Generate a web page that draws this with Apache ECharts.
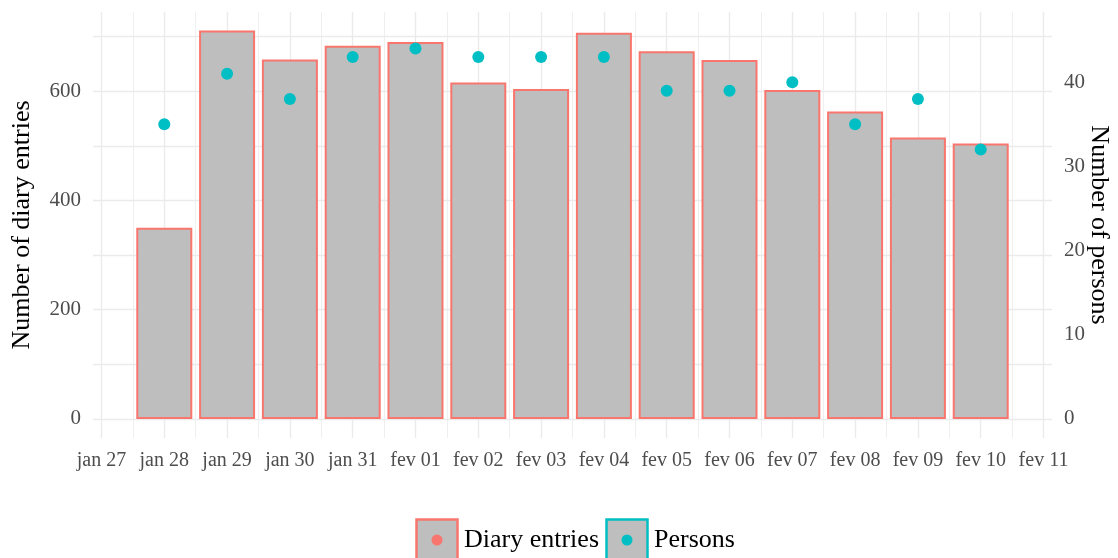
<!DOCTYPE html>
<html>
<head>
<meta charset="utf-8">
<script src="https://cdn.jsdelivr.net/npm/echarts@6/dist/echarts.min.js"></script>
<style>
  html, body { margin: 0; padding: 0; background: #fff; }
  #chart { width: 1118px; height: 558px; }
</style>
</head>
<body>
<div id="chart"></div>
<script>
// tick labels of the date axis (jan 27 .. fev 11)
var dayLabels = ['jan 27', 'jan 28', 'jan 29', 'jan 30', 'jan 31', 'fev 01', 'fev 02', 'fev 03',
                 'fev 04', 'fev 05', 'fev 06', 'fev 07', 'fev 08', 'fev 09', 'fev 10', 'fev 11'];
// days that have data
var dates = ['jan 28', 'jan 29', 'jan 30', 'jan 31', 'fev 01', 'fev 02', 'fev 03',
             'fev 04', 'fev 05', 'fev 06', 'fev 07', 'fev 08', 'fev 09', 'fev 10'];
var diaryEntries = [350, 711, 658, 683, 690, 616, 604, 707, 673, 657, 602, 563, 515, 504];
var persons = [35, 41, 38, 43, 44, 43, 43, 43, 39, 39, 40, 35, 38, 32];

var leftTicks = [0, 200, 400, 600];
var rightTicks = [0, 10, 20, 30, 40];
var secRatio = 15.41; // entries per person on the secondary axis

var RED = '#F8766D', CYAN = '#00BFC4', FILL = '#BEBEBE', GRID = '#EBEBEB';
var FONT = '"Liberation Serif", "DejaVu Serif", serif';

function keyIcon(col) {
  var svg = '<svg xmlns="http://www.w3.org/2000/svg" width="44" height="44">' +
    '<rect x="1.5" y="1.5" width="41" height="41" fill="' + FILL + '" stroke="' + col + '" stroke-width="2.5"/>' +
    '<circle cx="22" cy="22" r="5.5" fill="' + col + '"/></svg>';
  return 'image://data:image/svg+xml;charset=utf-8,' + encodeURIComponent(svg);
}

var yMin = -35, yMax = 745;
var xMin = -0.135, xMax = 15.135;

var chart = echarts.init(document.getElementById('chart'));
chart.setOption({
  animation: false,
  backgroundColor: '#fff',
  grid: { left: 93, right: 66, top: 12, bottom: 120, outerBoundsMode: 'none', containLabel: false },
  legend: {
    left: 415,
    top: 518,
    padding: 0,
    itemWidth: 44,
    itemHeight: 44,
    itemGap: 6,
    selectedMode: false,
    textStyle: { fontFamily: FONT, fontSize: 26, color: '#000' },
    data: [
      { name: 'Diary entries', icon: keyIcon(RED) },
      { name: 'Persons', icon: keyIcon(CYAN) }
    ]
  },
  xAxis: [
    {
      type: 'value',
      min: xMin,
      max: xMax,
      splitNumber: 15,
      axisLine: { show: false },
      axisTick: { show: false },
      axisLabel: {
        margin: 13,
        fontFamily: FONT,
        fontSize: 20,
        color: '#4D4D4D',
        formatter: function (v) {
          return Number.isInteger(v) && dayLabels[v] ? dayLabels[v] : '';
        }
      },
      splitLine: { show: true, showMinLine: false, showMaxLine: false,
                   lineStyle: { color: GRID, width: 1.4 } }
    },
    {
      // half-day minor grid lines
      type: 'value',
      min: xMin - 0.5,
      max: xMax - 0.5,
      splitNumber: 15,
      axisLine: { show: false },
      axisTick: { show: false },
      axisLabel: { show: false },
      splitLine: { show: true, showMinLine: false, showMaxLine: false,
                   lineStyle: { color: GRID, width: 0.8 } }
    }
  ],
  yAxis: [
    {
      type: 'value',
      min: yMin,
      max: yMax,
      splitNumber: 8,
      name: 'Number of diary entries',
      nameLocation: 'middle',
      nameGap: 58,
      nameMoveOverlap: false,
      nameTextStyle: { fontFamily: FONT, fontSize: 26, color: '#000' },
      axisLine: { show: false },
      axisTick: { show: false },
      axisLabel: {
        margin: 12,
        fontFamily: FONT,
        fontSize: 21,
        color: '#4D4D4D',
        formatter: function (v) { return leftTicks.indexOf(v) >= 0 ? String(v) : ''; }
      },
      splitLine: { show: true, showMinLine: false, showMaxLine: false,
                   lineStyle: { color: GRID, width: 1.3 } }
    },
    {
      type: 'value',
      position: 'right',
      min: yMin / secRatio,
      max: yMax / secRatio,
      splitNumber: 5,
      name: 'Number of persons',
      nameLocation: 'middle',
      nameRotate: -90,
      nameGap: 34,
      nameMoveOverlap: false,
      nameTextStyle: { fontFamily: FONT, fontSize: 26, color: '#000' },
      axisLine: { show: false },
      axisTick: { show: false },
      axisLabel: {
        margin: 12,
        fontFamily: FONT,
        fontSize: 21,
        color: '#4D4D4D',
        formatter: function (v) { return rightTicks.indexOf(v) >= 0 ? String(v) : ''; }
      },
      splitLine: { show: false }
    }
  ],
  series: [
    {
      name: 'Diary entries',
      type: 'bar',
      xAxisIndex: 0,
      yAxisIndex: 0,
      barWidth: 56,
      itemStyle: { color: FILL, borderColor: RED, borderWidth: 2 },
      data: dates.map(function (d, i) { return [dayLabels.indexOf(d), diaryEntries[i]]; })
    },
    {
      name: 'Persons',
      type: 'scatter',
      xAxisIndex: 0,
      yAxisIndex: 1,
      symbolSize: 12,
      itemStyle: { color: CYAN, opacity: 1 },
      data: dates.map(function (d, i) { return [dayLabels.indexOf(d), persons[i]]; })
    }
  ]
});
</script>
</body>
</html>
